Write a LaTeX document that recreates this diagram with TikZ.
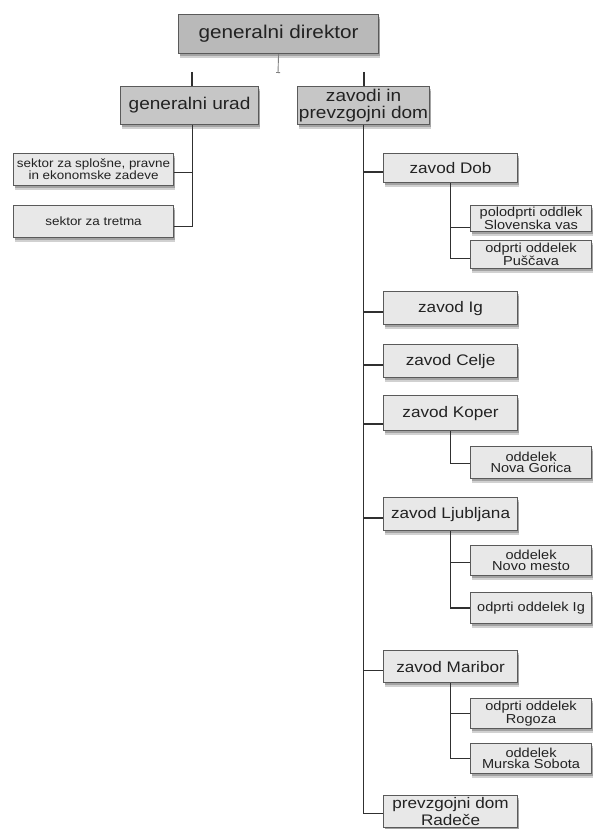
\documentclass[tikz,border=0pt]{standalone}
\usepackage{fontspec}
\setmainfont{Liberation Sans}[FakeStretch=1.12]
\usetikzlibrary{shadows,arrows.meta}
\definecolor{boxline}{HTML}{5A5A5A}
\definecolor{txt}{HTML}{222222}
\definecolor{filltop}{HTML}{B9B9B9}
\definecolor{fillone}{HTML}{C6C6C6}
\definecolor{filllight}{HTML}{E8E8E8}
\definecolor{conn}{HTML}{303030}
\tikzset{
  box/.style={draw=boxline, line width=1.1pt, anchor=north west, inner sep=0pt,
    align=center, text=txt,
    drop shadow={shadow xshift=1pt, shadow yshift=-4pt, opacity=0.18, fill=black},
    drop shadow={shadow xshift=1.5pt, shadow yshift=-2.5pt, opacity=0.22, fill=black}},
  bx/.style 2 args={minimum width=#1, minimum height=#2},
  topbox/.style={box, fill=filltop, font=\fontsize{18.5}{20}\selectfont},
  onebox/.style={box, fill=fillone, font=\fontsize{17}{17.5}\selectfont},
  twobox/.style={box, fill=filllight, font=\fontsize{15.3}{17}\selectfont},
  threebox/.style={box, fill=filllight, font=\fontsize{13}{11.5}\selectfont},
  sekbox/.style={box, fill=filllight, font=\fontsize{12}{12}\selectfont},
  link/.style={draw=conn, line width=1.6pt},
}
\begin{document}
\begin{tikzpicture}[x=1pt,y=-1pt]
\useasboundingbox (0,0) rectangle (592,829);
% top
\node[topbox,bx={200pt}{39pt}] (gd) at (178,14) {generalni direktor};
\node[onebox,bx={138pt}{38pt}] (gu) at (120,86) {generalni urad};
\node[onebox,bx={132pt}{38pt}] (zp) at (297,86) {zavodi in\\prevzgojni dom};
% left
\node[sekbox,bx={160pt}{32pt}] (s1) at (13,153) {sektor za splošne, pravne\\in ekonomske zadeve};
\node[sekbox,bx={160pt}{32pt}] (s2) at (13,205) {sektor za tretma};
% level 2
\node[twobox,bx={134pt}{29pt}] (dob) at (383,153) {zavod Dob};
\node[twobox,bx={134pt}{33pt}] (ig) at (383,291) {zavod Ig};
\node[twobox,bx={134pt}{33pt}] (ce) at (383,344) {zavod Celje};
\node[twobox,bx={134pt}{35pt}] (kp) at (383,395) {zavod Koper};
\node[twobox,bx={134pt}{33pt}] (lj) at (383,497) {zavod Ljubljana};
\node[twobox,bx={134pt}{32pt}] (mb) at (383,650) {zavod Maribor};
\node[twobox,bx={134pt}{32pt}] (rd) at (383,795) {prevzgojni dom\\Radeče};
% level 3
\node[threebox,bx={121pt}{26pt}] (sv) at (470,205) {polodprti oddlek\\Slovenska vas};
\node[threebox,bx={121pt}{28pt}] (pu) at (470,240) {odprti oddelek\\Puščava};
\node[threebox,bx={121pt}{32pt}] (ng) at (470,446) {oddelek\\Nova Gorica};
\node[threebox,bx={121pt}{30pt}] (nm) at (470,545) {oddelek\\Novo mesto};
\node[threebox,bx={121pt}{31pt}] (oi) at (470,592) {odprti oddelek Ig};
\node[threebox,bx={121pt}{30pt}] (rg) at (470,698) {odprti oddelek\\Rogoza};
\node[threebox,bx={121pt}{30pt}] (ms) at (470,743) {oddelek\\Murska Sobota};
% connectors
\coordinate (gdend) at (278,73);
\coordinate (gustub) at (192,72);
\coordinate (zpstub) at (364,72);
\draw[draw=gray, line width=0.9pt, -{Bar[width=4pt,line width=0.9pt]}] (gd.south) -- (gdend);
\draw[link] (gustub) -- (gustub |- gu.north);
\draw[link] (zpstub) -- (zpstub |- zp.north);
\draw[link] ([xshift=3pt]gu.south) |- ([yshift=-3pt]s1.east);
\draw[link] ([xshift=3pt]gu.south) |- ([yshift=-5pt]s2.east);
\draw[link] (zp.south) |- ([yshift=-4pt]dob.west);
\draw[link] (zp.south) |- ([yshift=-4pt]ig.west);
\draw[link] (zp.south) |- ([yshift=-4pt]ce.west);
\draw[link] (zp.south) |- ([yshift=-11pt]kp.west);
\draw[link] (zp.south) |- ([yshift=-4pt]lj.west);
\draw[link] (zp.south) |- ([yshift=-4pt]mb.west);
\draw[link] (zp.south) |- ([yshift=-2pt]rd.west);
\draw[link] (dob.south) |- ([yshift=-9pt]sv.west);
\draw[link] (dob.south) |- ([yshift=-4pt]pu.west);
\draw[link] (kp.south) |- ([yshift=-1pt]ng.west);
\draw[link] (lj.south) |- ([yshift=-2pt]nm.west);
\draw[link] (lj.south) |- (oi.west);
\draw[link] (mb.south) |- (rg.west);
\draw[link] (mb.south) |- (ms.west);
\end{tikzpicture}
\end{document}
